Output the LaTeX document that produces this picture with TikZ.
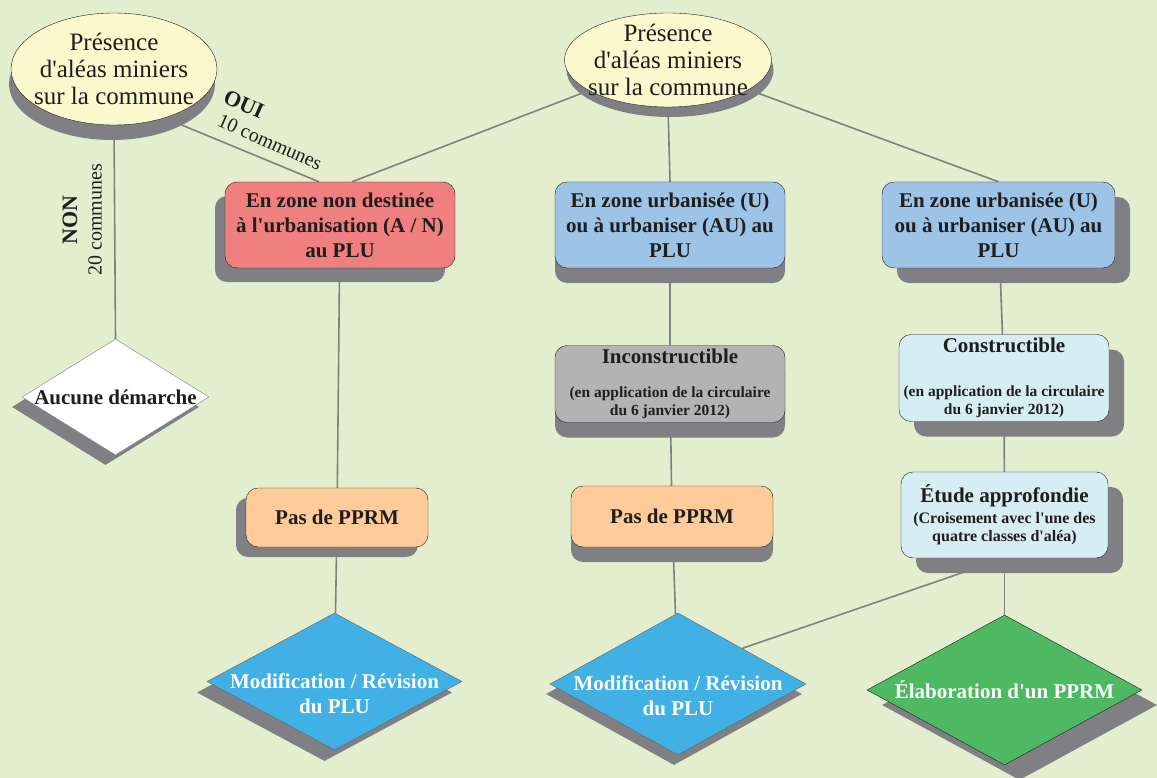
\documentclass[tikz,border=0pt]{standalone}
\usepackage{fontspec}
\setmainfont{Liberation Serif}[Ligatures=TeXOff]
\usepackage{tikz}
\usetikzlibrary{shapes.geometric, shadows, backgrounds}

\definecolor{fond}{RGB}{226,238,206}
\definecolor{encre}{RGB}{30,30,30}
\definecolor{jaune}{RGB}{250,248,204}
\definecolor{rouge}{RGB}{240,128,128}
\definecolor{bleu}{RGB}{157,195,230}
\definecolor{grisbox}{RGB}{179,179,179}
\definecolor{peche}{RGB}{255,204,153}
\definecolor{cyanpale}{RGB}{214,237,244}
\definecolor{azur}{RGB}{65,176,228}
\definecolor{vert}{RGB}{78,184,98}
\definecolor{ombregris}{RGB}{128,128,132}
\definecolor{trait}{RGB}{128,128,128}

\tikzset{
  ombre/.style 2 args={drop shadow={shadow xshift=#1, shadow yshift=#2, fill=ombregris, opacity=1}},
  question/.style={ellipse, draw=encre, thin, fill=jaune, inner sep=0pt},
  qtxt/.style={align=center, text=encre, font=\fontsize{25}{27}\selectfont},
  zone/.style={rectangle, rounded corners=12pt, draw=encre, thin, inner sep=0pt,
    align=center, text=encre, font=\bfseries\fontsize{21}{25}\selectfont},
  issue/.style={diamond, thin, inner sep=0pt},
  itxt/.style={align=center, font=\bfseries\fontsize{21}{25}\selectfont},
  lien/.style={draw=trait, line width=1.6pt},
}

\begin{document}
\begin{tikzpicture}[x=1pt, y=-1pt]
\begin{scope}[on background layer]
\fill[fond] (0,0) rectangle (1157,778);
\end{scope}
\useasboundingbox (0,0) rectangle (1157,778);
%
\node(pres1) [question, minimum width=206pt, minimum height=112pt, ombre={-2pt}{-15pt},
  label={[qtxt]center:Présence\\d'aléas miniers\\sur la commune}] at (114,69) {};
%
\node(non) [rotate=90, text=encre, font=\bfseries\fontsize{22}{24}\selectfont] at (70,220) {NON};
\node(vingtc) [rotate=90, text=encre, font=\fontsize{20}{22}\selectfont] at (95,220) {20 communes};
\node(oui) [rotate=-24, text=encre, font=\bfseries\fontsize{22}{24}\selectfont] at (244,104) {OUI};
\node(dixc) [rotate=-24, text=encre, font=\fontsize{20}{22}\selectfont] at (270,142) {10 communes};
%
\node(aucune) [issue, draw=trait, fill=white, minimum width=187pt, minimum height=116pt, ombre={-10pt}{-10pt},
  label={[itxt, text=encre]center:Aucune démarche}] at (115.5,397) {};
%
\node(pres2) [question, minimum width=207pt, minimum height=94pt, ombre={2pt}{-10pt},
  label={[qtxt]center:Présence\\d'aléas miniers\\sur la commune}] at (668,60) {};
%
\node(zona) [zone, fill=rouge, minimum width=230pt, minimum height=86pt, ombre={-10pt}{-14pt}]
  at (340,225) {En zone non destinée\\à l'urbanisation (A / N)\\au PLU};
\node(zonu1) [zone, fill=bleu, minimum width=230pt, minimum height=86pt, ombre={0pt}{-15pt}]
  at (670,225) {En zone urbanisée (U)\\ou à urbaniser (AU) au\\PLU};
\node(zonu2) [zone, fill=bleu, minimum width=233pt, minimum height=86pt, ombre={15pt}{-15pt}]
  at (998.5,225) {En zone urbanisée (U)\\ou à urbaniser (AU) au\\PLU};
%
\node(incons) [zone, fill=grisbox, minimum width=230pt, minimum height=77pt, ombre={0pt}{-15pt},
  font=\bfseries\fontsize{15.5}{18}\selectfont] at (670,384)
  {{\fontsize{21}{25}\selectfont Inconstructible}\\[16pt](en application de la circulaire\\du 6 janvier 2012)};
\node(constr) [zone, fill=cyanpale, minimum width=210pt, minimum height=87pt, ombre={15pt}{-15pt},
  font=\bfseries\fontsize{15.5}{18}\selectfont] at (1004,378)
  {{\fontsize{21}{25}\selectfont Constructible}\\[26pt](en application de la circulaire\\du 6 janvier 2012)};
%
\node(pas1) [zone, fill=peche, minimum width=182pt, minimum height=59pt, ombre={-10pt}{-10pt}]
  at (337,517.5) {Pas de PPRM};
\node(pas2) [zone, fill=peche, minimum width=202pt, minimum height=61pt, ombre={0pt}{-15pt}]
  at (672,516.5) {Pas de PPRM};
\node(etude) [zone, fill=cyanpale, minimum width=207pt, minimum height=86pt, ombre={15pt}{-15pt},
  font=\bfseries\fontsize{16}{18}\selectfont] at (1004.5,515)
  {{\fontsize{21}{25}\selectfont Étude approfondie}\\[3pt](Croisement avec l'une des\\quatre classes d'aléa)};
%
\node(modif1) [issue, draw=encre!70, fill=azur, minimum width=255pt, minimum height=137pt, ombre={-10pt}{-11pt},
  label={[itxt, text=white, yshift=-12pt]center:Modification / Révision\\du PLU}] at (334.5,681.5) {};
\node(modif2) [issue, draw=encre!70, fill=azur, minimum width=256pt, minimum height=142pt, ombre={-4pt}{-10pt},
  label={[itxt, text=white, yshift=-12pt]center:Modification / Révision\\du PLU}] at (678,684) {};
\node(elab) [issue, draw=encre, fill=vert, minimum width=275pt, minimum height=150pt, ombre={15pt}{-15pt},
  label={[itxt, text=white]center:Élaboration d'un PPRM}] at (1004.5,690) {};
%
% connecting lines go under the boxes and their shadows
\begin{scope}[on background layer]
\draw[lien] (pres1.south) -- (aucune.north);
\draw[lien] ([yshift=-28pt]pres1.center) -- ([xshift=-21pt]zona.north);
\draw[lien] (pres2.center) -- ([xshift=12pt]zona.north);
\draw[lien] (pres2.south) -- (zonu1.north);
\draw[lien] (pres2.center) -- (zonu2.north);
%
\draw[lien] (zona) -- (pas1);
\draw[lien] (pas1) -- (modif1);
%
\draw[lien] (zonu1) -- (incons);
\draw[lien] (incons) -- (pas2);
\draw[lien] (pas2) -- (modif2);
%
\draw[lien] (zonu2) -- (constr);
\draw[lien] (constr) -- (etude);
\draw[lien] (etude) -- (elab);
\draw[lien] (etude.south) -- (modif2.north east);
\end{scope}
\end{tikzpicture}
\end{document}
